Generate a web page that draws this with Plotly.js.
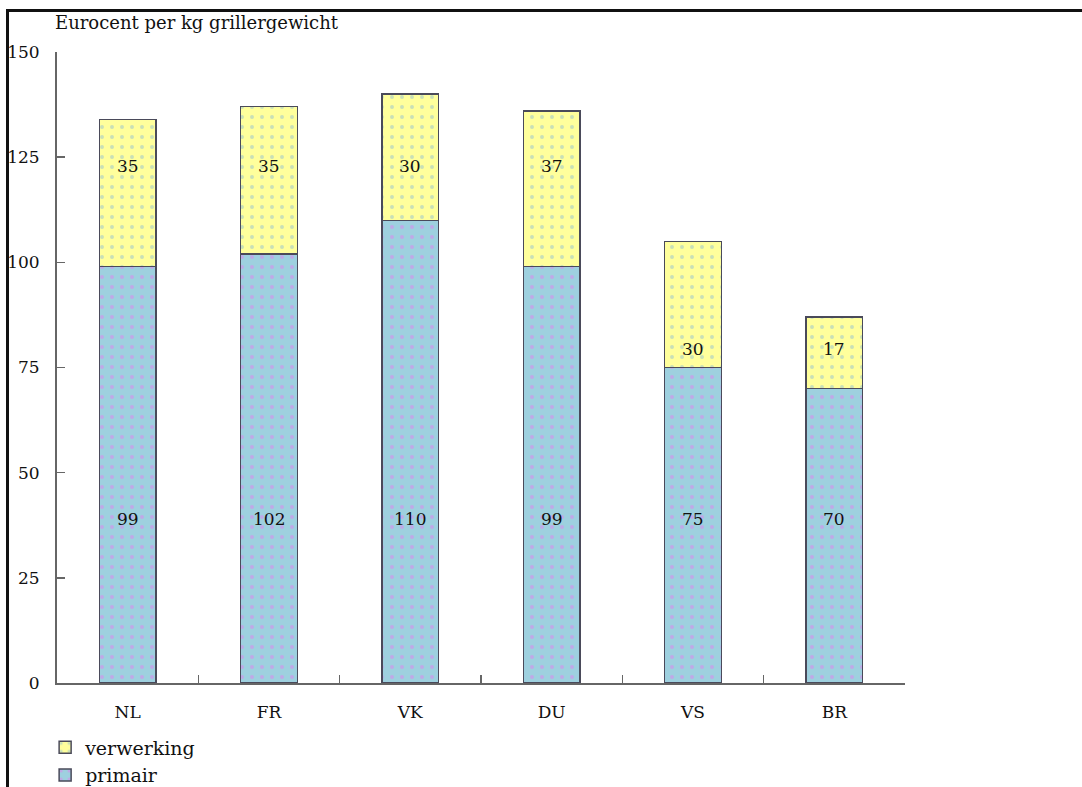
<!DOCTYPE html>
<html>
<head>
<meta charset="utf-8">
<script src="https://cdn.plot.ly/plotly-3.0.1.min.js"></script>
<style>
  html, body { margin: 0; padding: 0; background: #fff; }
  #frame { position: absolute; left: 6px; top: 9px; width: 1076px; height: 778px;
           border-top: 3px solid #111; border-left: 3px solid #111; box-sizing: border-box; }
  #chart { position: absolute; left: 0; top: 0; width: 1082px; height: 787px; }
</style>
</head>
<body>
<div id="frame"></div>
<div id="chart"></div>
<script>
const categories = ['NL', 'FR', 'VK', 'DU', 'VS', 'BR'];
const primair = [99, 102, 110, 99, 75, 70];
const verwerking = [35, 35, 30, 37, 30, 17];
const yTicks = [0, 25, 50, 75, 100, 125, 150];
const yAxisTitle = 'Eurocent per kg grillergewicht';

const FAMILY = 'DejaVu Serif, Liberation Serif, serif';
function mkFont(size) { return {family: FAMILY, size: size || 17, color: '#111'}; }

const traces = [
  {
    type: 'bar', name: 'primair', x: categories, y: primair,
    marker: {
      color: '#9ed0df',
      line: {color: '#4a4a5a', width: 1.5},
      pattern: {shape: '.', fgcolor: '#c0a8e8', bgcolor: '#9ed0df', size: 10, solidity: 0.12}
    },
    hoverinfo: 'x+y'
  },
  {
    type: 'bar', name: 'verwerking', x: categories, y: verwerking,
    marker: {
      color: '#ffff9c',
      line: {color: '#4a4a5a', width: 1.5},
      pattern: {shape: '.', fgcolor: '#c8e0b8', bgcolor: '#ffff9c', size: 10, solidity: 0.12}
    },
    hoverinfo: 'x+y'
  }
];

// value labels: primair labels on a common row, verwerking labels near the upper part of the segment
const annotations = [];
categories.forEach((c, i) => {
  annotations.push({x: c, y: 39, xref: 'x', yref: 'y', text: String(primair[i]),
    showarrow: false, font: mkFont(17)});
  const total = primair[i] + verwerking[i];
  annotations.push({x: c, y: total > 120 ? 123 : 79.5, xref: 'x', yref: 'y', text: String(verwerking[i]),
    showarrow: false, font: mkFont(17)});
});
annotations.push({x: 0, y: 1.046, xref: 'paper', yref: 'paper', xanchor: 'left', yanchor: 'middle',
  xshift: -4, text: yAxisTitle, showarrow: false, font: mkFont(18)});

const layout = {
  width: 1082, height: 787,
  margin: {l: 57, r: 177, t: 52, b: 104, autoexpand: false},
  paper_bgcolor: 'rgba(0,0,0,0)', plot_bgcolor: 'rgba(0,0,0,0)',
  barmode: 'stack', bargap: 0.6,
  font: mkFont(17),
  showlegend: true,
  legend: {x: -0.014, y: -0.072, xanchor: 'left', yanchor: 'top', traceorder: 'reversed',
    font: mkFont(19), bgcolor: 'rgba(0,0,0,0)', itemwidth: 30, tracegroupgap: 0},
  xaxis: {
    type: 'category', showgrid: false, zeroline: false,
    showline: true, linecolor: '#666', linewidth: 2,
    ticks: 'inside', tickson: 'boundaries', ticklen: 8, tickcolor: '#666', tickwidth: 1.5,
    ticklabelstandoff: 13, tickfont: mkFont(17)
  },
  yaxis: {
    range: [0, 150], tickvals: yTicks, ticktext: yTicks.map(String),
    showgrid: false, zeroline: false,
    showline: true, linecolor: '#666', linewidth: 2,
    ticks: 'inside', ticklen: 8, tickcolor: '#666', tickwidth: 1.5,
    ticklabelstandoff: 12, tickfont: mkFont(17)
  },
  annotations: annotations
};

Plotly.newPlot('chart', traces, layout, {displayModeBar: false, staticPlot: true});
</script>
</body>
</html>
